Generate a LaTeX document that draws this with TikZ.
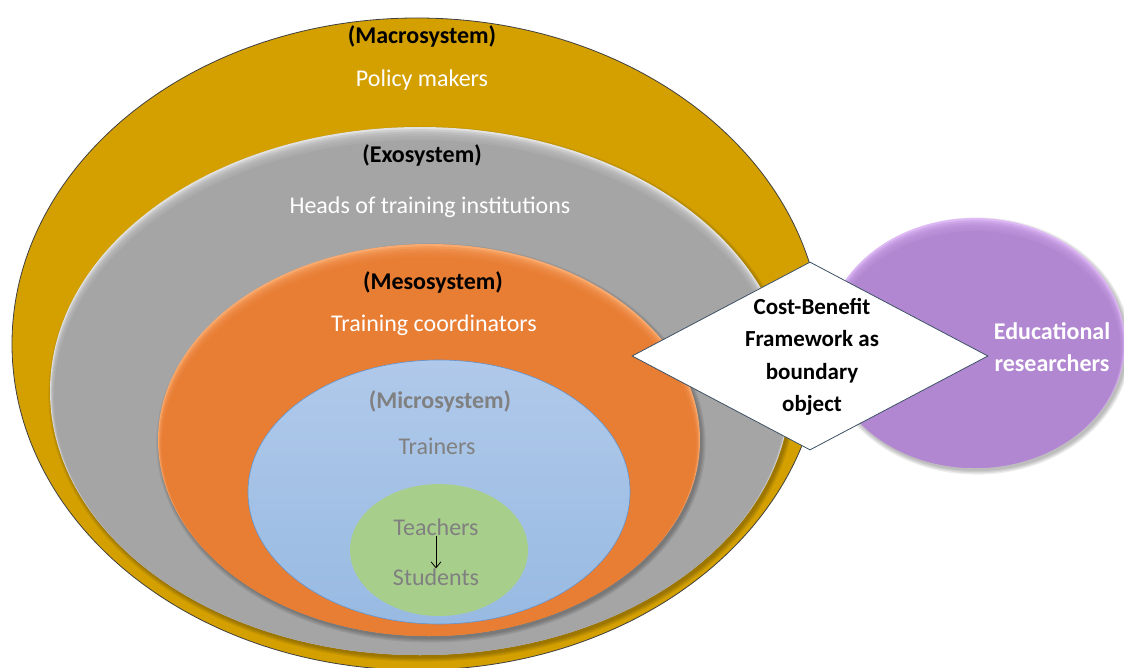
\documentclass[tikz,border=0pt]{standalone}
\usepackage{fontspec}
\setmainfont{Carlito}
\usetikzlibrary{shapes.geometric,arrows.meta}

\definecolor{macrogold}{RGB}{211,160,0}
\definecolor{exogray}{RGB}{165,165,165}
\definecolor{exolight}{RGB}{225,225,225}
\definecolor{mesoorange}{RGB}{232,125,52}
\definecolor{mesolight}{RGB}{250,170,110}
\definecolor{microblue}{RGB}{152,186,226}
\definecolor{microtop}{RGB}{176,201,234}
\definecolor{microedge}{RGB}{95,150,210}
\definecolor{studgreen}{RGB}{168,206,140}
\definecolor{respurple}{RGB}{178,135,210}
\definecolor{reslight}{RGB}{222,185,245}
\definecolor{diamondedge}{RGB}{60,80,100}
\definecolor{innertext}{RGB}{128,128,128}

\tikzset{
  ring/.style={ellipse, inner sep=0pt},
  lbl/.style={font=\fontsize{24}{28}\selectfont, inner sep=0pt},
  head/.style={lbl, font=\fontsize{24}{28}\selectfont\bfseries},
}

% soft bevel: shrinking layers of the body colour over a lighter base,
% leaving a pale rim along the top of the shape
\newcommand\softrim[5]{%
  \foreach \k in {1,...,5}{%
    \fill[#5, opacity=0.35] (#1,#2+\k*1.1) ellipse [x radius=#3/2-\k*0.7, y radius=#4/2-\k*1.1];
  }
  \fill[#5] (#1,#2+6.6) ellipse [x radius=#3/2-4.2, y radius=#4/2-6.6];
}
% soft drop shadow below a shape
\newcommand\softshadow[4]{%
  \foreach \k in {0,...,3}{%
    \fill[black, opacity=0.07] (#1+2,#2+3) ellipse [x radius=#3/2+\k*1.2, y radius=#4/2+\k*1.2];
  }
}

\begin{document}
\begin{tikzpicture}[x=1pt,y=-1pt]
\useasboundingbox (0,0) rectangle (1124,668);
\fill[white] (0,0) rectangle (1124,668);

% nested system ellipses
\node[ring, fill=macrogold, draw=black!75, line width=0.8pt,
      minimum width=810pt, minimum height=652pt] (macro) at (417,344) {};

\softshadow{420}{391}{740}{528}
\node[ring, fill=exolight, minimum width=740pt, minimum height=528pt] (exo) at (420,391) {};
\softrim{420}{391}{740}{528}{exogray}

\softshadow{429}{440}{542}{392}
\node[ring, fill=mesolight, minimum width=542pt, minimum height=392pt] (meso) at (429,440) {};
\softrim{429}{440}{542}{392}{mesoorange}

\node[ring, top color=microtop, bottom color=microblue, draw=microedge, line width=0.6pt,
      minimum width=382pt, minimum height=264pt] (micro) at (439,492) {};
\node[ring, fill=studgreen, minimum width=178pt, minimum height=132pt] (core) at (439,550) {};

% outside group and the boundary object
\softshadow{975}{343}{300}{250}
\node[ring, fill=reslight, minimum width=300pt, minimum height=250pt] (res) at (975,343) {};
\softrim{975}{343}{300}{250}{respurple}
\node[diamond, fill=white, draw=diamondedge, line width=0.8pt, inner sep=0pt,
      minimum width=356pt, minimum height=188pt] (cbf) at (810,356) {};

% labels
\node[head] (macroT) at (422,36) {(Macrosystem)};
\node[lbl, white] (macroN) at (422,80) {Policy makers};
\node[head] (exoT) at (422,155) {(Exosystem)};
\node[lbl, white] (exoN) at (430,207) {Heads of training institutions};
\node[head] (mesoT) at (433,282) {(Mesosystem)};
\node[lbl, white] (mesoN) at (434,325) {Training coordinators};
\node[head, innertext] (microT) at (440,401) {(Microsystem)};
\node[lbl, innertext] (microN) at (437,446) {Trainers};
\node[lbl, innertext] (teach) at (436,527) {Teachers};
\node[lbl, innertext] (stud) at (436,577) {Students};
\draw[-{Straight Barb[length=6pt,width=10pt]}, line width=0.8pt] (teach.south) -- (stud.north);

\node[head, align=center, font=\fontsize{23}{32.5}\selectfont\bfseries] (cbfT) at (812,357)
  {Cost-Benefit\\Framework as\\boundary\\object};
\node[head, white, align=center, font=\fontsize{24}{32}\selectfont\bfseries] (resT) at (1052,347)
  {Educational\\researchers};
\end{tikzpicture}
\end{document}
